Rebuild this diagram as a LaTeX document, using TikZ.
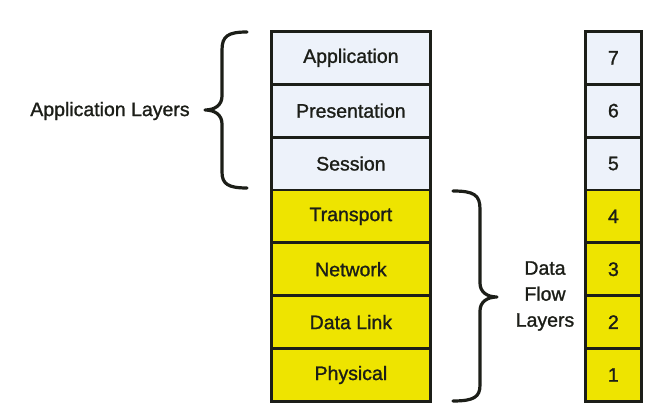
\documentclass[tikz,border=0pt]{standalone}
\usepackage{fontspec}
\setmainfont[FakeBold=1.2]{Liberation Sans}
\definecolor{lightbox}{RGB}{237,242,250}
\definecolor{yel}{RGB}{238,228,0}
\definecolor{ink}{RGB}{28,30,24}
\begin{document}
\begin{tikzpicture}[x=1pt,y=-1pt,
  layerbox/.style={draw=ink,line width=2.8pt,minimum width=159pt,minimum height=52.86pt,inner sep=0pt,font=\fontsize{19.5}{23}\selectfont,text=ink,anchor=north west},
  numbox/.style={layerbox,minimum width=56pt},
  upper/.style={fill=lightbox},
  lower/.style={fill=yel},
  bracepath/.style={draw=ink,line width=3.2pt,line cap=round,line join=round},
  lbl/.style={font=\fontsize{19.5}{23}\selectfont,text=ink,align=center}]
\useasboundingbox (0,0) rectangle (649,414);
\fill[white] (0,0) rectangle (649,414);
% left column
\node[layerbox,upper] (app) at (270,30) {Application};
\node[layerbox,upper] (pres) at (270,82.86) {Presentation};
\node[layerbox,upper] (sess) at (270,135.71) {Session};
\node[layerbox,lower] (trans) at (270,188.57) {Transport};
\node[layerbox,lower] (net) at (270,241.43) {Network};
\node[layerbox,lower] (dl) at (270,294.29) {Data Link};
\node[layerbox,lower] (phys) at (270,347.14) {Physical};
% right column
\node[numbox,upper] (n7) at (584,30) {7};
\node[numbox,upper] (n6) at (584,82.86) {6};
\node[numbox,upper] (n5) at (584,135.71) {5};
\node[numbox,lower] (n4) at (584,188.57) {4};
\node[numbox,lower] (n3) at (584,241.43) {3};
\node[numbox,lower] (n2) at (584,294.29) {2};
\node[numbox,lower] (n1) at (584,347.14) {1};
% left brace
\coordinate (lbtop) at (247,32);
\coordinate (lbbot) at (247,188);
\coordinate (lbtip) at (205,110);
\draw[bracepath] (lbtop) .. controls (228,32) and (222,36) .. (222,50) -- (222,96)
  .. controls (222,105) and (215,110) .. (lbtip)
  .. controls (215,110) and (222,115) .. (222,124) -- (222,172)
  .. controls (222,184) and (228,188) .. (lbbot);
% right brace
\coordinate (rbtop) at (453,191);
\coordinate (rbbot) at (453,401);
\coordinate (rbtip) at (497,297);
\draw[bracepath] (rbtop) .. controls (474,191) and (480,195) .. (480,209) -- (480,283)
  .. controls (480,292) and (487,297) .. (rbtip)
  .. controls (487,297) and (480,302) .. (480,311) -- (480,385)
  .. controls (480,397) and (474,401) .. (rbbot);
% labels
\node[lbl] (applbl) at (110,111) {Application Layers};
\node[lbl,font=\fontsize{19.5}{26}\selectfont] (dflbl) at (545,296) {Data\\Flow\\Layers};
\end{tikzpicture}
\end{document}
